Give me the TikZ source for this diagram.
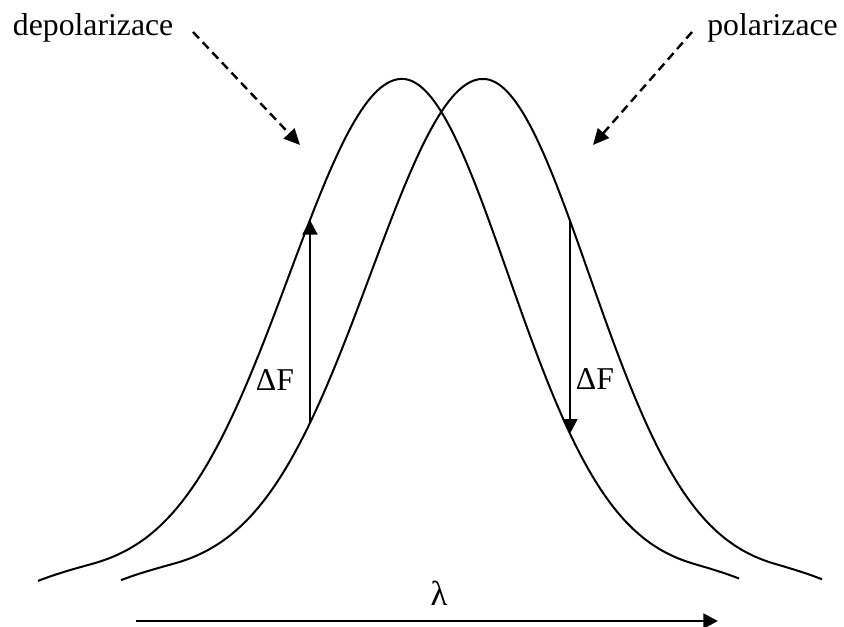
\documentclass[tikz,border=0pt]{standalone}
\usepackage{fontspec}
\setmainfont{Liberation Serif}
\usetikzlibrary{arrows.meta}
\begin{document}
\begin{tikzpicture}[x=0.75pt,y=-0.75pt,
  declare function={
    sg(\u)=exp(-(\u)*(\u)/2);
    hk(\u)=8*(max(0,(abs(\u)-2.75)/0.47))^2;
    uu(\x,\c)=(\x-\c)/ifthenelse(\x<\c,112.5,106);
    gy(\x,\c)=575-496*sg(uu(\x,\c))+hk(uu(\x,\c));
  },
  curve/.style={line width=1.5pt},
  hint/.style={line width=1.8pt,dash pattern=on 6.5pt off 4pt,-{Triangle[length=12pt,width=11pt]}},
  delta/.style={line width=2.1pt,-{Triangle[length=11pt,width=11pt]}},
  axis/.style={line width=2.2pt,-{Triangle[length=11pt,width=11pt]}},
  lab/.style={inner sep=0pt,font=\fontsize{23.8}{28}\selectfont},
]
\useasboundingbox (0,0) rectangle (844,627);
% curves
\draw[curve] plot[domain=38:739,samples=220,variable=\x] (\x,{gy(\x,402)});
\draw[curve] plot[domain=121:822,samples=220,variable=\x] (\x,{gy(\x,483)});
% labels
\node[lab,anchor=base west] (dep) at (12.7,36) {depolarizace};
\node[lab,anchor=base east] (pol) at (838,36) {polarizace};
\node[lab] (dfl) at (275,380) {ΔF};
\node[lab] (dfr) at (595,379) {ΔF};
\node[lab,font=\fontsize{26}{30}\selectfont] (lam) at (439,593) {λ};
% dashed hints
\coordinate (d1) at (193,32);
\coordinate (d2) at (300,145);
\coordinate (p1) at (692,32);
\coordinate (p2) at (593,145);
\draw[hint] (d1) -- (d2);
\draw[hint] (p1) -- (p2);
% delta arrows
\coordinate (la) at (310,{gy(310,483)});
\coordinate (lb) at (310,{gy(310,402)});
\coordinate (ra) at (570,{gy(570,483)});
\coordinate (rb) at (570,{gy(570,402)});
\draw[delta] (la) -- (lb);
\draw[delta] (ra) -- (rb);
% wavelength axis
\coordinate (a1) at (136,621);
\coordinate (a2) at (718,621);
\draw[axis] (a1) -- (a2);
\end{tikzpicture}
\end{document}
